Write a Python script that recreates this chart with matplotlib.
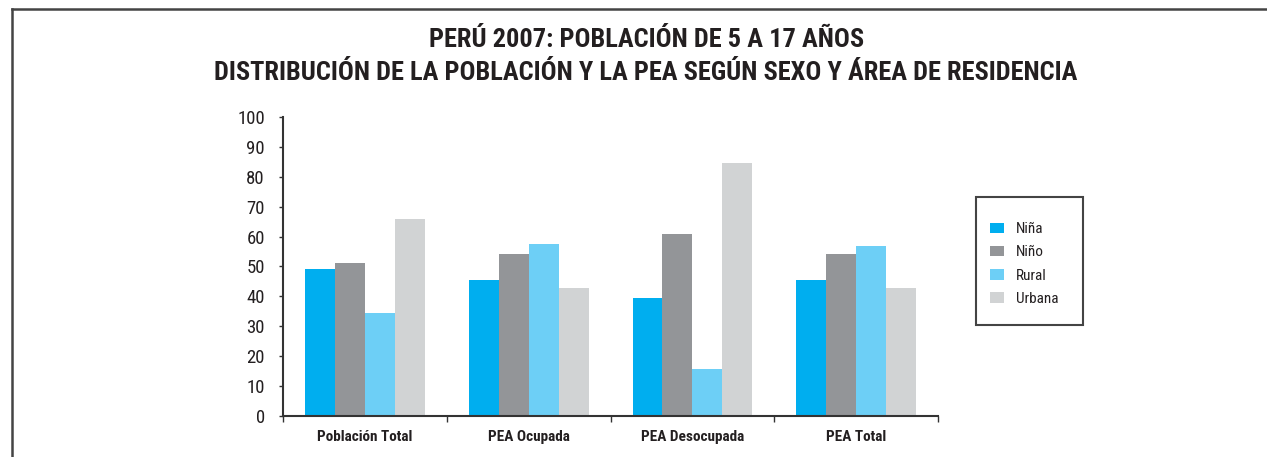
import numpy as N
import matplotlib
matplotlib.use("Agg")
import matplotlib.pyplot as plt
from matplotlib.lines import Line2D
from matplotlib.patches import Rectangle

categories = ["Población Total", "PEA Ocupada", "PEA Desocupada", "PEA Total"]
series_names = ["Niña", "Niño", "Rural", "Urbana"]
nina = [49.2, 45.5, 39.5, 45.5]
nino = [51.2, 54.2, 60.9, 54.2]
rural = [34.4, 57.5, 15.7, 56.9]
urbana = [65.9, 42.8, 84.6, 42.8]
y_ticks = [0, 10, 20, 30, 40, 50, 60, 70, 80, 90, 100]

colors = ["#00AEEF", "#939598", "#6DCFF6", "#D1D3D4"]
fam = ["Roboto Condensed", "Archivo Narrow", "DejaVu Sans"]
plt.rcParams["font.family"] = fam
ink = "#231F20"

fig = plt.figure(figsize=(12.67, 4.57), dpi=100)
ax = fig.add_axes([0.2234, 0.0897, 0.5170, 0.6543])

x = N.arange(len(categories))
w = 0.183
values = [nina, nino, rural, urbana]
for i, (vals, name) in enumerate(zip(values, series_names)):
    ax.bar(x + (i - 1.5) * w, vals, w, color=colors[i], label=name, linewidth=0)

ax.set_xlim(-0.5, len(categories) - 0.5)
ax.set_ylim(0, 100)
ax.set_yticks(y_ticks)
ax.tick_params(axis="y", length=3, width=1, pad=10, labelsize=13.5,
               colors="#333333", labelcolor=ink)
ax.set_xticks(x)
ax.set_xticklabels(categories, fontweight="bold", fontsize=11, color=ink)
ax.tick_params(axis="x", length=0, pad=10)
ax.set_xticks(N.arange(-0.5, len(categories)), minor=True)
ax.tick_params(axis="x", which="minor", length=4, width=1, colors="#333333")
for s in ["top", "right"]:
    ax.spines[s].set_visible(False)
for s in ["left", "bottom"]:
    ax.spines[s].set_color("#333333")
    ax.spines[s].set_linewidth(1.5)

# titulo
fig.text(0.51, 0.912, "PERÚ 2007: POBLACIÓN DE 5 A 17 AÑOS", ha="center", va="center",
         fontsize=19, fontweight="bold", color=ink)
fig.text(0.51, 0.840, "DISTRIBUCIÓN DE LA POBLACIÓN Y LA PEA SEGÚN SEXO Y ÁREA DE RESIDENCIA",
         ha="center", va="center", fontsize=19, fontweight="bold", color=ink)

# leyenda con caja propia
fig.add_artist(Rectangle((976 / 1267, 1 - 325 / 457), 107 / 1267, 128 / 457,
                         transform=fig.transFigure, fill=False, edgecolor="#444444", lw=1.5))
leg = fig.legend(loc="center left", bbox_to_anchor=(982 / 1267, 1 - 264 / 457),
                 frameon=False, fontsize=11, labelspacing=0.6, handlelength=0.95,
                 handleheight=0.7, handletextpad=0.75, borderpad=0)
for t in leg.get_texts():
    t.set_color(ink)

# marco de la figura
fig.add_artist(Line2D([12 / 1267, 1], [1 - 9 / 457, 1 - 9 / 457], transform=fig.transFigure,
                      color="#444444", lw=1.8))
fig.add_artist(Line2D([12 / 1267, 12 / 1267], [0, 1 - 9 / 457], transform=fig.transFigure,
                      color="#444444", lw=1.8))

fig.savefig("out.png", dpi=100)
